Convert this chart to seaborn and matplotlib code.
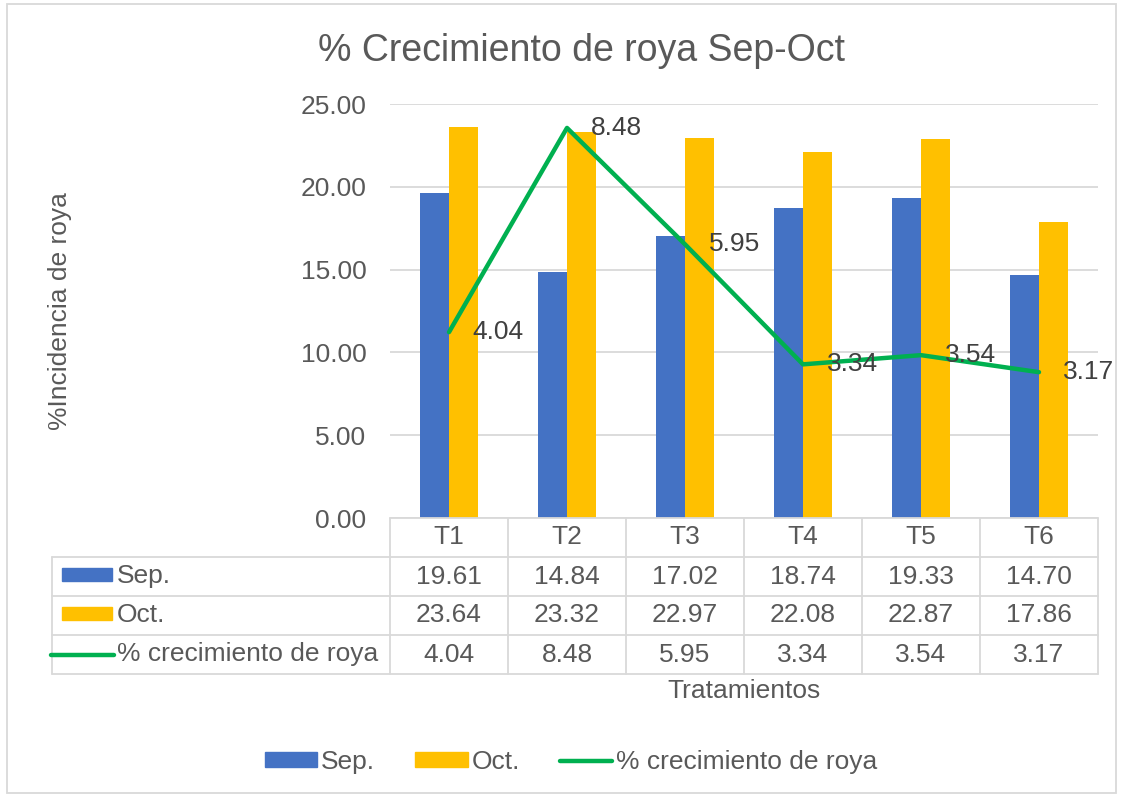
import matplotlib
matplotlib.use("Agg")
import matplotlib.pyplot as plt
import numpy as np
import pandas as pd
import seaborn as sns
from matplotlib.patches import Rectangle, Patch
from matplotlib.lines import Line2D

# Data
trat = ["T1", "T2", "T3", "T4", "T5", "T6"]
sep = [19.61, 14.84, 17.02, 18.74, 19.33, 14.70]
octu = [23.64, 23.32, 22.97, 22.08, 22.87, 17.86]
crec = [4.04, 8.48, 5.95, 3.34, 3.54, 3.17]
series = ["Sep.", "Oct.", "% crecimiento de roya"]

BLUE, GOLD, GREEN = "#4472C4", "#FFC000", "#00B050"
TXT, GRID = "#595959", "#D9D9D9"
FS = 19

sns.set_style("white")
plt.rcParams["font.family"] = ["Liberation Sans", "DejaVu Sans"]

W, H = 1123, 795
fig = plt.figure(figsize=(W / 100, H / 100), dpi=100)

df = pd.DataFrame({"trat": trat * 2,
                   "val": sep + octu,
                   "mes": ["Sep."] * 6 + ["Oct."] * 6})

# main plot area (pixels -> figure fraction)
L, R, T, B = 390, 1098, 104, 518
ax = fig.add_axes([L / W, (H - B) / H, (R - L) / W, (B - T) / H])
sns.barplot(data=df, x="trat", y="val", hue="mes", palette=[BLUE, GOLD],
            width=0.49, saturation=1, legend=False, linewidth=0, ax=ax)
ax.set_xlim(-0.5, len(trat) - 0.5)
ax.set_ylim(0, 25)
ax.set_yticks(np.arange(0, 26, 5))
ax.set_yticklabels([f"{v:.2f}" for v in np.arange(0, 26, 5)])
ax.tick_params(axis="y", length=0, pad=17, labelsize=FS, labelcolor=TXT)
ax.set_xticks([])
ax.set_xlabel("")
ax.set_ylabel("")
ax.yaxis.grid(True, color=GRID, lw=1.3)
ax.set_axisbelow(True)
for s in ax.spines.values():
    s.set_visible(False)

# line on hidden secondary axis
ax2 = ax.twinx()
sns.lineplot(x=np.arange(len(trat)), y=crec, color=GREEN, lw=3.2, ax=ax2)
ax2.set_ylim(0, 9)
ax2.set_xlim(-0.5, len(trat) - 0.5)
ax2.axis("off")
for i, v in enumerate(crec):
    ax2.annotate(f"{v:.2f}", (i, v), xytext=(17, 0), textcoords="offset points",
                 va="center", ha="left", fontsize=FS, color="#404040")

# data table
tb_top, tb_bot = 518, 674
tax = fig.add_axes([L / W, (H - tb_bot) / H, (R - L) / W, (tb_bot - tb_top) / H])
tax.set_xlim(-0.5, len(trat) - 0.5)
tax.set_ylim(4, 0)
tax.axis("off")
cw = (R - L) / len(trat)


def px(p):
    return (p - L) / cw - 0.5


xl = px(52)
kw = dict(color=GRID, lw=1.3, clip_on=False)
tax.plot([-0.5, 5.5], [0, 0], **kw)
for r in range(1, 5):
    tax.plot([xl, 5.5], [r, r], **kw)
for i in range(len(trat) + 1):
    tax.plot([i - 0.5, i - 0.5], [0, 4], **kw)
tax.plot([xl, xl], [1, 4], **kw)

rows = [sep, octu, crec]
for i, t in enumerate(trat):
    tax.text(i, 0.5, t, ha="center", va="center", fontsize=FS, color=TXT)
    for r, vals in enumerate(rows):
        tax.text(i, r + 1.5, f"{vals[i]:.2f}", ha="center", va="center",
                 fontsize=FS, color=TXT)

for r, (name, col) in enumerate(zip(series, [BLUE, GOLD, GREEN])):
    yc = r + 1.45
    if r < 2:
        tax.add_patch(Rectangle((px(62), yc - 0.17), px(112) - px(62), 0.34,
                                color=col, clip_on=False))
    else:
        tax.plot([px(51), px(114)], [yc + 0.05, yc + 0.05], color=col, lw=3.2,
                 solid_capstyle="round", clip_on=False)
    tax.text(px(117), r + 1.5, name, ha="left", va="center", fontsize=FS,
             color=TXT)

# texts
fig.text(581 / W, 1 - 51 / H, "% Crecimiento de roya Sep-Oct", ha="center",
         va="center", fontsize=27, color=TXT)
fig.text(60 / W, 1 - 311 / H, "%Incidencia de roya", rotation=90, ha="center",
         va="center", fontsize=FS, color=TXT)
fig.text(744 / W, 1 - 691 / H, "Tratamientos", ha="center", va="center",
         fontsize=FS, color=TXT)

handles = [Patch(color=BLUE), Patch(color=GOLD),
           Line2D([0], [0], color=GREEN, lw=3.2)]
fig.legend(handles, series, loc="center", bbox_to_anchor=(571 / W, 1 - 762 / H),
           ncol=3, frameon=False, fontsize=FS, labelcolor=TXT,
           handlelength=2.0, handleheight=0.5, handletextpad=0.15,
           columnspacing=1.5)

fig.add_artist(Rectangle((7 / W, 2 / H), 1 - 14 / W, 1 - 6 / H,
                         transform=fig.transFigure, fill=False,
                         edgecolor=GRID, lw=1.3))

fig.savefig("out.png", dpi=100)
